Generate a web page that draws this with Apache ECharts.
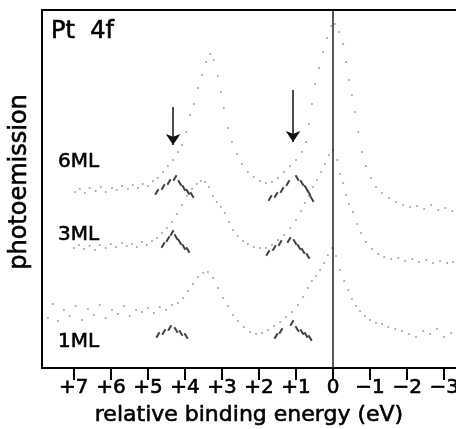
<!DOCTYPE html>
<html>
<head>
<meta charset="utf-8">
<script src="https://cdn.jsdelivr.net/npm/echarts@6/dist/echarts.min.js"></script>
<style>html,body{margin:0;padding:0;background:#fff;}#chart{width:456px;height:429px;}</style>
</head>
<body>
<div id="chart"></div>
<script>
// relative binding energy (eV) and photoemission intensity (arb. units)
const spec6E = [6.97,6.84,6.70,6.57,6.41,6.27,6.14,5.97,5.84,5.70,5.54,5.41,5.27,5.14,5.00,4.86,4.73,4.59,4.46,4.32,4.19,4.08,3.97,3.86,3.76,3.65,3.54,3.43,3.32,3.22,3.11,3.03,2.95,2.84,2.73,2.59,2.46,2.30,2.14,1.97,1.81,1.65,1.49,1.32,1.16,1.00,0.84,0.73,0.65,0.57,0.49,0.38,0.27,0.16,0.05,-0.05,-0.16,-0.27,-0.35,-0.43,-0.51,-0.59,-0.68,-0.78,-0.89,-1.03,-1.16,-1.32,-1.51,-1.70,-1.89,-2.08,-2.27,-2.46,-2.65,-2.84,-3.03,-3.22];
const spec6I = [176,179,175,180,177,181,176,180,178,182,179,183,180,184,182,187,190,196,202,208,216,223,236,253,264,280,293,306,314,308,292,276,260,240,226,214,204,196,191,187,185,186,190,196,202,208,216,226,244,264,284,300,316,330,342,344,336,324,306,288,273,256,236,216,202,190,181,175,170,166,163,161,162,159,163,158,160,157];

const spec3E = [7.00,6.86,6.73,6.57,6.43,6.30,6.14,6.00,5.86,5.70,5.57,5.43,5.30,5.16,5.03,4.89,4.76,4.62,4.49,4.35,4.22,4.08,3.95,3.81,3.68,3.57,3.46,3.35,3.24,3.14,3.03,2.92,2.81,2.70,2.57,2.43,2.30,2.14,1.97,1.81,1.65,1.49,1.32,1.16,1.00,0.86,0.76,0.65,0.54,0.43,0.32,0.22,0.11,0,-0.11,-0.19,-0.27,-0.35,-0.43,-0.54,-0.65,-0.76,-0.89,-1.05,-1.22,-1.38,-1.57,-1.76,-1.95,-2.14,-2.32,-2.51,-2.70,-2.89,-3.08,-3.24];
const spec3I = [120,123,119,122,118,123,120,124,121,125,122,124,121,126,123,127,130,135,140,146,154,163,172,179,184,187,186,181,172,166,161,155,146,138,132,127,124,121,120,120,123,128,133,140,148,157,165,172,181,188,196,204,213,218,208,194,185,173,164,156,144,135,126,119,114,111,109,110,107,109,106,108,105,107,105,106];

const spec1E = [7.70,7.57,7.43,7.27,7.11,6.95,6.78,6.62,6.46,6.30,6.14,5.97,5.81,5.65,5.49,5.32,5.16,5.00,4.84,4.68,4.51,4.35,4.19,4.05,3.92,3.78,3.65,3.51,3.38,3.24,3.11,2.97,2.84,2.70,2.57,2.41,2.24,2.08,1.92,1.76,1.59,1.43,1.27,1.11,0.95,0.81,0.68,0.57,0.46,0.35,0.24,0.14,0.03,-0.08,-0.19,-0.30,-0.41,-0.51,-0.62,-0.73,-0.86,-1.00,-1.16,-1.32,-1.49,-1.68,-1.86,-2.05,-2.24,-2.43,-2.62,-2.81,-3.00,-3.19];
const spec1I = [50,64,47,58,52,62,48,59,53,63,50,58,54,62,52,58,56,60,55,61,58,63,65,70,77,84,91,95,96,90,80,70,62,53,47,41,36,34,35,38,42,46,51,56,63,71,80,87,92,98,105,113,120,112,98,87,78,69,62,57,52,48,45,44,41,39,37,34,31,37,34,39,31,35];

// hatched component marks ("/" rising side, "\" falling side)
const hatchUpE = [4.76,4.59,4.43,4.27, 1.70,1.54,1.38,1.22, 4.59,4.46,4.35, 1.76,1.59,1.43,1.19, 4.73,4.57,4.41, 1.54,1.41,1.11];
const hatchUpI = [176,181,186,190, 170,173,178,185, 123,129,135, 115,120,125,128, 33,36,40, 32,37,45];
const hatchDownE = [4.14,4.03,3.92,3.81, 0.97,0.84,0.73,0.65,0.57, 4.24,4.14,4.03,3.92, 1.03,0.92,0.81,0.68, 4.24,4.11,3.97, 0.97,0.84,0.73,0.62];
const hatchDownI = [185,180,176,173, 190,185,180,175,169, 131,126,121,118, 126,121,117,112, 38,35,32, 39,36,33,30];

// arrows marking the shoulders
const arrowE = [4.32, 1.08];
const arrowTop = [261, 278];
const arrowBottom = [223, 226];

const tickValues = [7,6,5,4,3,2,1,0,-1,-2,-3];
const tickLabels = ['+7','+6','+5','+4','+3','+2','+1','0','\u22121','\u22122','\u22123'];

const spectrumNames = ['6ML','3ML','1ML'];

function zip(a, b) { const n = Math.min(a.length, b.length); const r = []; for (let i = 0; i < n; i++) r.push([a[i], b[i]]); return r; }

const FONT = '"DejaVu Sans", sans-serif';
const dotStyle = { color: '#8a8a8a' };
const heavy = { textBorderColor: '#000', textBorderWidth: 0.6 };

const chart = echarts.init(document.getElementById('chart'), null, { renderer: 'canvas' });
const option = {
  animation: false,
  backgroundColor: '#ffffff',
  grid: { left: 42, right: 0, top: 10, bottom: 61, containLabel: false, outerBoundsMode: 'none' },
  xAxis: [{
    type: 'value', min: -3.32, max: 7.86, inverse: true, position: 'bottom',
    axisLine: { show: true, onZero: false, lineStyle: { color: '#000', width: 2 } },
    axisTick: { show: true, customValues: tickValues, length: 12, inside: false, lineStyle: { color: '#000', width: 2 } },
    axisLabel: Object.assign({ customValues: tickValues, formatter: v => tickLabels[tickValues.indexOf(v)], fontFamily: FONT, fontSize: 20, color: '#000', margin: 10, hideOverlap: false }, heavy),
    splitLine: { show: false },
    name: 'relative binding energy (eV)', nameLocation: 'middle', nameGap: 36,
    nameTextStyle: Object.assign({ fontFamily: FONT, fontSize: 22, color: '#000' }, heavy)
  }, {
    type: 'value', min: -3.32, max: 7.86, inverse: true, position: 'top',
    axisLine: { show: true, onZero: false, lineStyle: { color: '#000', width: 2 } },
    axisTick: { show: false }, axisLabel: { show: false }, splitLine: { show: false }
  }],
  yAxis: {
    type: 'value', min: 0, max: 358,
    axisLine: { show: true, onZero: false, lineStyle: { color: '#000', width: 2 } },
    axisTick: { show: false }, axisLabel: { show: false }, splitLine: { show: false },
    name: 'photoemission', nameLocation: 'middle', nameGap: 10, nameRotate: 90,
    nameTextStyle: Object.assign({ fontFamily: FONT, fontSize: 24, color: '#000', padding: [0, 0, 0, 14] }, heavy)
  },
  series: [
    { name: spectrumNames[0], type: 'scatter', symbolSize: 2, itemStyle: dotStyle, data: zip(spec6E, spec6I),
      markLine: { silent: true, symbol: ['none', 'none'], label: { show: false },
        lineStyle: { color: '#222', width: 1.5, type: 'solid' }, data: [{ xAxis: 0 }] } },
    { name: spectrumNames[1], type: 'scatter', symbolSize: 2, itemStyle: dotStyle, data: zip(spec3E, spec3I) },
    { name: spectrumNames[2], type: 'scatter', symbolSize: 2, itemStyle: dotStyle, data: zip(spec1E, spec1I) },
    { type: 'scatter', symbol: 'rect', symbolSize: [2, 6.5], symbolRotate: -30, itemStyle: { color: '#111' }, data: zip(hatchUpE, hatchUpI) },
    { type: 'scatter', symbol: 'rect', symbolSize: [2, 6.5], symbolRotate: 30, itemStyle: { color: '#111' }, data: zip(hatchDownE, hatchDownI) },
    { type: 'lines', coordinateSystem: 'cartesian2d', symbol: ['none', 'arrow'], symbolSize: [8, 11],
      lineStyle: { color: '#111', width: 1.5, opacity: 1 },
      data: arrowE.map((e, i) => ({ coords: [[e, arrowTop[i]], [e, arrowBottom[i]]] })) }
  ],
  graphic: [
    { type: 'text', x: 51, y: 32, style: { text: 'Pt  4f', fontFamily: FONT, fontSize: 24, fill: '#000', verticalAlign: 'middle', align: 'left', stroke: '#000', lineWidth: 0.6 } },
    { type: 'text', x: 58, y: 162, style: { text: spectrumNames[0], fontFamily: FONT, fontSize: 20, fill: '#000', verticalAlign: 'middle', align: 'left', stroke: '#000', lineWidth: 0.6 } },
    { type: 'text', x: 58, y: 235, style: { text: spectrumNames[1], fontFamily: FONT, fontSize: 20, fill: '#000', verticalAlign: 'middle', align: 'left', stroke: '#000', lineWidth: 0.6 } },
    { type: 'text', x: 58, y: 342, style: { text: spectrumNames[2], fontFamily: FONT, fontSize: 20, fill: '#000', verticalAlign: 'middle', align: 'left', stroke: '#000', lineWidth: 0.6 } }
  ]
};
chart.setOption(option);
</script>
</body>
</html>
